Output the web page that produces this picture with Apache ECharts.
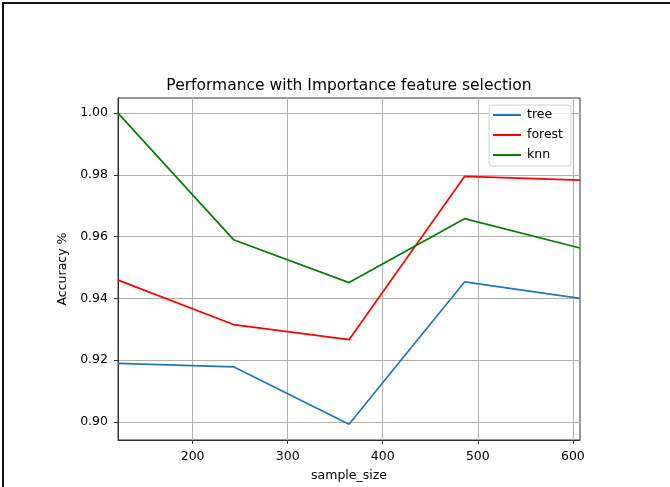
<!DOCTYPE html>
<html>
<head>
<meta charset="utf-8">
<script src="https://cdn.jsdelivr.net/npm/echarts@6/dist/echarts.min.js"></script>
<style>
html,body{margin:0;padding:0;background:#fff;}
#chart{position:absolute;left:0;top:0;width:670px;height:487px;}
#frame{position:absolute;left:2px;top:2px;width:668px;height:485px;border-top:2px solid #111;border-left:2px solid #111;box-sizing:border-box;pointer-events:none;}
</style>
</head>
<body>
<div id="chart"></div>
<div id="frame"></div>
<script>
var sampleSize = [121.5, 243, 364.5, 486, 607.5];
var tree   = [0.9189, 0.9178, 0.8992, 0.9453, 0.9400];
var forest = [0.9459, 0.9315, 0.9266, 0.9795, 0.9783];
var knn    = [1.0000, 0.9590, 0.9451, 0.9658, 0.9563];
var xTicks = [200, 300, 400, 500, 600];
var yTicks = [0.90, 0.92, 0.94, 0.96, 0.98, 1.00];
var seriesNames = ['tree', 'forest', 'knn'];
var seriesColors = ['#1f77b4', '#ff0000', '#008000'];

function pairs(vals){ return sampleSize.map(function(x,i){ return [x, vals[i]]; }); }
var allVals = [tree, forest, knn];

var FONT = 'DejaVu Sans';
var chart = echarts.init(document.getElementById('chart'), null, {renderer:'canvas'});
chart.setOption({
  animation:false,
  backgroundColor:'#fff',
  textStyle:{fontFamily:FONT},
  title:{
    text:'Performance with Importance feature selection',
    left:344, top:73, textAlign:'center',
    textStyle:{fontFamily:FONT, fontSize:15.5, fontWeight:'normal', color:'#000'}
  },
  legend:{
    orient:'vertical', left:489, top:105,
    icon:'rect', itemWidth:28, itemHeight:2, itemGap:6,
    padding:[3,8,4,4],
    borderColor:'#d0d0d0', borderWidth:1, borderRadius:3,
    backgroundColor:'rgba(255,255,255,0.8)',
    textStyle:{fontFamily:FONT, fontSize:12.5, lineHeight:14, color:'#000', padding:[0,0,0,1]},
    data:seriesNames
  },
  grid:{left:118, right:90, top:98, bottom:45, show:true, borderColor:'#333', borderWidth:1, containLabel:false},
  xAxis:{
    type:'value', min:sampleSize[0], max:sampleSize[sampleSize.length-1],
    name:'sample_size', nameLocation:'middle', nameGap:29,
    nameTextStyle:{fontFamily:FONT, fontSize:12.5, color:'#000'},
    axisLine:{show:true, onZero:false, lineStyle:{color:'#333', width:1}},
    axisTick:{show:true, length:4, customValues:xTicks, lineStyle:{color:'#333'}},
    axisLabel:{customValues:xTicks, margin:10, fontFamily:FONT, fontSize:12.5, color:'#000'},
    splitLine:{show:true, lineStyle:{color:'#b0b0b0', width:1}}
  },
  yAxis:{
    type:'value', min:0.8941, max:1.0049,
    name:'Accuracy %', nameLocation:'middle', nameGap:44,
    nameTextStyle:{fontFamily:FONT, fontSize:12.5, color:'#000'},
    axisLine:{show:true, onZero:false, lineStyle:{color:'#333', width:1}},
    axisTick:{show:true, length:4, customValues:yTicks, lineStyle:{color:'#333'}},
    axisLabel:{customValues:yTicks, margin:10, fontFamily:FONT, fontSize:12.5, color:'#000',
      formatter:function(v){ return v.toFixed(2); }},
    splitLine:{show:true, lineStyle:{color:'#b0b0b0', width:1}}
  },
  series: seriesNames.map(function(n,i){
    return {name:n, type:'line', symbol:'none', data:pairs(allVals[i]),
      color:seriesColors[i], lineStyle:{color:seriesColors[i], width:1.7}};
  })
});
</script>
</body>
</html>
